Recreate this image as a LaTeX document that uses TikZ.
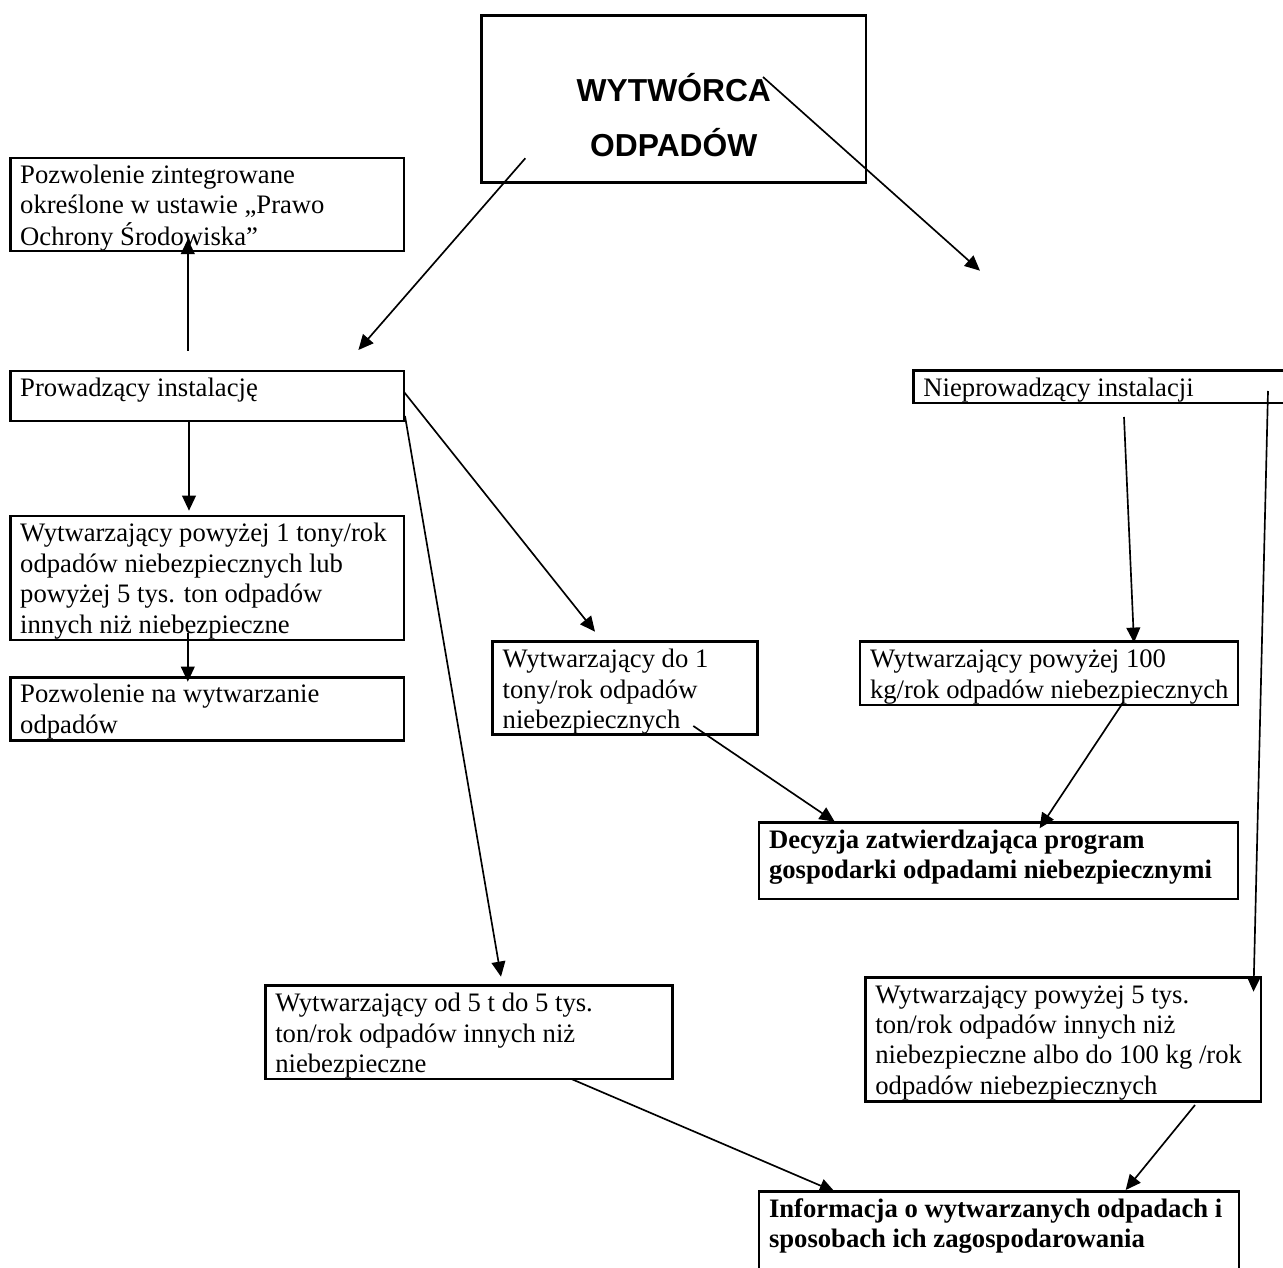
\documentclass[tikz,border=0pt]{standalone}
\usepackage{fontspec}
\setmainfont{Liberation Serif}
\newfontfamily\arialfont{Liberation Sans}
\usetikzlibrary{arrows.meta}
\newdimen\unitpx \unitpx=0.45pt
\newcommand\bx[4]{\parbox[t][#2\unitpx][t]{#1\unitpx}{\raggedright\rule{0pt}{#3\unitpx}\begin{tabular}[t]{@{}l@{}}#4\end{tabular}}}
\newcommand\bxc[4]{\parbox[t][#2\unitpx][t]{#1\unitpx}{\centering\rule{0pt}{#3\unitpx}\begin{tabular}[t]{@{}c@{}}#4\end{tabular}}}
\tikzset{
  box/.style={draw, line width=1.2pt, anchor=north west, inner xsep=4.5pt, inner ysep=1.8pt, outer sep=0pt},
  txt/.style={font=\fontsize{12}{13.7}\selectfont},
  boldtxt/.style={font=\fontsize{12}{13.7}\selectfont\bfseries},
  headtxt/.style={font=\arialfont\bfseries\fontsize{14.3}{24.75}\selectfont},
  conn/.style={line width=0.75pt, -{Triangle[length=6.8pt,width=6.2pt]}},
}
\begin{document}
\begin{tikzpicture}[x=0.45pt,y=-0.45pt]
\useasboundingbox (0,0) rectangle (1283,1268);
\fill[white] (0,0) rectangle (1283,1268);
\clip (0,0) rectangle (1283,1268);

% boxes
\node[box,headtxt] (wyt) at (481.6,15.7) {\bxc{364.4}{159}{82}{WYTWÓRCA\\ODPADÓW}};
\node[box,txt] (pozz) at (10.2,158) {\bx{373.8}{85}{20.7}{Pozwolenie zintegrowane\\określone w ustawie „Prawo\\Ochrony Środowiska”}};
\node[box,txt] (prow) at (10.2,371) {\bx{373.8}{42}{21.7}{Prowadzący instalację}};
\node[box,txt] (pow1) at (10.2,516) {\bx{373.8}{116}{21.7}{Wytwarzający powyżej 1 tony/rok\\odpadów niebezpiecznych lub\\powyżej 5 tys. ton odpadów\\innych niż niebezpieczne}};
\node[box,txt] (pozw) at (10.2,677.3) {\bx{373.8}{55.4}{21.7}{Pozwolenie na wytwarzanie\\odpadów}};
\node[box,txt] (niep) at (913.4,370.7) {\bx{366.6}{24.3}{19.3}{Nieprowadzący instalacji}};
\node[box,txt] (do1) at (492.7,641.7) {\bx{245}{84.6}{22.3}{Wytwarzający do 1\\tony/rok odpadów\\niebezpiecznych}};
\node[box,txt] (pow100) at (860,641.7) {\bx{358}{55.3}{22.3}{Wytwarzający powyżej 100\\kg/rok odpadów niebezpiecznych}};
\node[box,boldtxt] (dec) at (759,822.7) {\bx{459}{68.3}{21.3}{Decyzja zatwierdzająca program\\gospodarki odpadami niebezpiecznymi}};
\node[box,txt] (od5) at (265.3,985.7) {\bx{387.5}{85.3}{22}{Wytwarzający od 5 t do 5 tys.\\ton/rok odpadów innych niż\\niebezpieczne}};
\node[box,txt] (pow5) at (865.4,977.7) {\bx{375.6}{116}{21.3}{Wytwarzający powyżej 5 tys.\\ton/rok odpadów innych niż\\niebezpieczne albo do 100 kg /rok\\odpadów niebezpiecznych}};
\node[box,boldtxt] (inf) at (759,1191.7) {\bx{460}{100.3}{21}{Informacja o wytwarzanych odpadach i\\sposobach ich zagospodarowania}};

% connector end points
\coordinate (wyt-l) at (525.3,158.3);   \coordinate (prow-in) at (358.4,350);
\coordinate (wyt-r) at (763,77);        \coordinate (niep-in) at (980,270.7);
\coordinate (prow-up) at (187.8,351);   \coordinate (pozz-in) at (187.8,239);
\coordinate (prow-dn) at (189,421);     \coordinate (pow1-in) at (189,510.7);
\coordinate (pow1-dn) at (187.8,633);   \coordinate (pozw-in) at (187.8,681.7);
\coordinate (prow-r1) at (404,392);     \coordinate (do1-in) at (595,631.7);
\coordinate (prow-r2) at (405,416);     \coordinate (od5-in) at (501,976.7);
\coordinate (niep-d1) at (1124,417);    \coordinate (pow100-in) at (1134,642.7);
\coordinate (niep-d2) at (1268,391);    \coordinate (pow5-in) at (1253.5,991.7);
\coordinate (do1-out) at (693.3,726);   \coordinate (dec-in1) at (834.7,821.7);
\coordinate (pow100-out) at (1123.6,701.7); \coordinate (dec-in2) at (1039.6,828.3);
\coordinate (od5-out) at (571.4,1079);  \coordinate (inf-in1) at (834.7,1191.7);
\coordinate (pow5-out) at (1195,1105);  \coordinate (inf-in2) at (1125.7,1190);

% connectors
\draw[conn] (wyt-l) -- (prow-in);
\draw[conn] (wyt-r) -- (niep-in);
\draw[conn] (prow-up) -- (pozz-in);
\draw[conn] (prow-dn) -- (pow1-in);
\draw[conn] (pow1-dn) -- (pozw-in);
\draw[conn] (prow-r1) -- (do1-in);
\draw[conn] (prow-r2) -- (od5-in);
\draw[conn] (niep-d1) -- (pow100-in);
\draw[conn] (niep-d2) -- (pow5-in);
\draw[conn] (do1-out) -- (dec-in1);
\draw[conn] (pow100-out) -- (dec-in2);
\draw[conn] (od5-out) -- (inf-in1);
\draw[conn] (pow5-out) -- (inf-in2);
\end{tikzpicture}
\end{document}
